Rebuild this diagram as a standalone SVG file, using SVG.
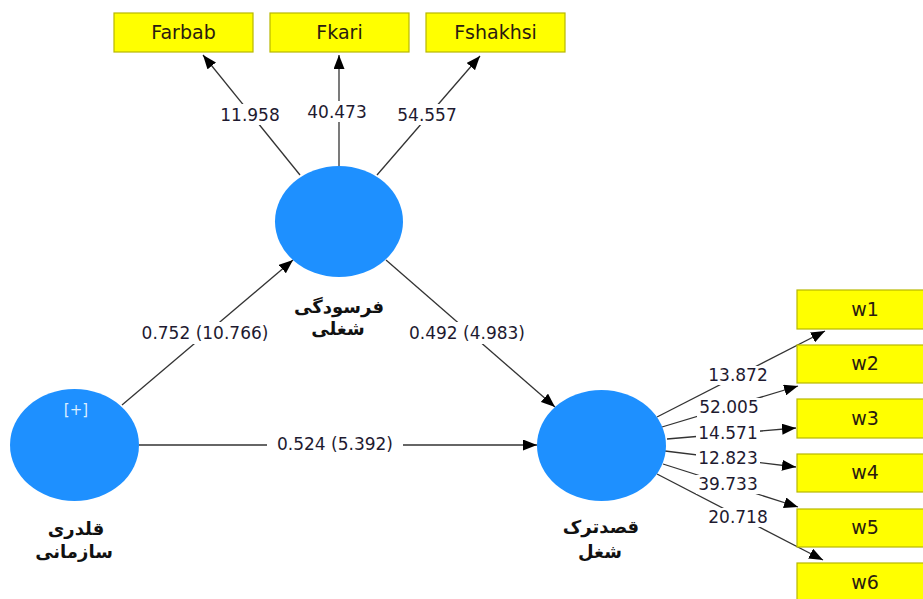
<svg xmlns="http://www.w3.org/2000/svg" width="923" height="599" viewBox="0 0 923 599">
<defs>
<style>
.ind{fill:#ffff00;stroke:#b8b800;stroke-width:1.2}
.ind-t{font-family:"DejaVu Sans",sans-serif;font-size:19px;fill:#2a1a10;text-anchor:middle}
.lv{fill:#1e90ff}
.lv-t{font-family:"DejaVu Sans",sans-serif;font-size:18px;font-weight:bold;fill:#111;text-anchor:middle}
.plus{font-family:"DejaVu Sans",sans-serif;font-size:15px;fill:#dbeeff;text-anchor:middle}
.ln{stroke:#333;stroke-width:1.3;fill:none;marker-end:url(#ah)}
.bg{fill:#fff}
.lb{font-family:"DejaVu Sans",sans-serif;font-size:17px;fill:#1e1a30;text-anchor:middle}
</style>
<marker id="ah" viewBox="0 0 14 11" refX="14" refY="5.5" markerWidth="14" markerHeight="11" orient="auto" markerUnits="userSpaceOnUse">
<path d="M0,0 L14,5.5 L0,11 z" fill="#000"/>
</marker>
</defs>
<rect width="923" height="599" fill="#fff"/>

<g id="connectors">
<line class="ln" x1="300" y1="175" x2="203" y2="55"/>
<line class="ln" x1="339" y1="166" x2="339" y2="55"/>
<line class="ln" x1="377" y1="175" x2="480" y2="56"/>
<line class="ln" x1="122" y1="405" x2="293" y2="260"/>
<line class="ln" x1="386" y1="260" x2="555" y2="407"/>
<line class="ln" x1="139" y1="445" x2="537" y2="445"/>
<line class="ln" x1="657" y1="417" x2="825" y2="331"/>
<line class="ln" x1="662" y1="427" x2="798" y2="386"/>
<line class="ln" x1="667" y1="439" x2="796" y2="428"/>
<line class="ln" x1="665" y1="451" x2="796" y2="467"/>
<line class="ln" x1="663" y1="464" x2="798" y2="507"/>
<line class="ln" x1="657" y1="474" x2="823" y2="560"/>

<rect class="bg" x="218" y="104" width="64" height="21"/>
<text class="lb" x="250" y="121">11.958</text>
<rect class="bg" x="305" y="101" width="64" height="21"/>
<text class="lb" x="337" y="118">40.473</text>
<rect class="bg" x="395" y="104" width="64" height="21"/>
<text class="lb" x="427" y="121">54.557</text>
<rect class="bg" x="136" y="322" width="138" height="22"/>
<text class="lb" x="205" y="339">0.752 (10.766)</text>
<rect class="bg" x="403" y="322" width="128" height="22"/>
<text class="lb" x="467" y="339">0.492 (4.983)</text>
<rect class="bg" x="267" y="433" width="136" height="22"/>
<text class="lb" x="335" y="450">0.524 (5.392)</text>

<rect class="bg" x="706" y="366" width="64" height="19"/>
<text class="lb" x="738" y="381">13.872</text>
<rect class="bg" x="697" y="398" width="64" height="19"/>
<text class="lb" x="729" y="413">52.005</text>
<rect class="bg" x="696" y="424" width="64" height="19"/>
<text class="lb" x="728" y="439">14.571</text>
<rect class="bg" x="696" y="449" width="64" height="19"/>
<text class="lb" x="728" y="464">12.823</text>
<rect class="bg" x="696" y="475" width="64" height="19"/>
<text class="lb" x="728" y="490">39.733</text>
<rect class="bg" x="706" y="508" width="64" height="19"/>
<text class="lb" x="738" y="523">20.718</text>
</g>

<g id="Farbab"><rect class="ind" x="114" y="13" width="139" height="39"/><text class="ind-t" x="183.5" y="39">Farbab</text></g>
<g id="Fkari"><rect class="ind" x="270" y="13" width="139" height="39"/><text class="ind-t" x="339.5" y="39">Fkari</text></g>
<g id="Fshakhsi"><rect class="ind" x="426" y="13" width="139" height="39"/><text class="ind-t" x="495.5" y="39">Fshakhsi</text></g>

<g id="w1"><rect class="ind" x="797" y="290" width="138" height="39"/><text class="ind-t" x="865" y="316">w1</text></g>
<g id="w2"><rect class="ind" x="797" y="345" width="138" height="38"/><text class="ind-t" x="865" y="370">w2</text></g>
<g id="w3"><rect class="ind" x="797" y="399" width="138" height="39"/><text class="ind-t" x="865" y="425">w3</text></g>
<g id="w4"><rect class="ind" x="797" y="454" width="138" height="38"/><text class="ind-t" x="865" y="479">w4</text></g>
<g id="w5"><rect class="ind" x="797" y="509" width="138" height="38"/><text class="ind-t" x="865" y="534">w5</text></g>
<g id="w6"><rect class="ind" x="797" y="563" width="138" height="39"/><text class="ind-t" x="865" y="589">w6</text></g>

<g id="fersudegi">
<ellipse class="lv" cx="339" cy="221.5" rx="64" ry="55.5"/>
<text class="lv-t" x="339" y="313">فرسودگی</text>
<text class="lv-t" x="338" y="335">شغلی</text>
</g>

<g id="ghaldari">
<ellipse class="lv" cx="74.5" cy="445" rx="64.5" ry="56"/>
<text class="plus" x="76" y="415">[+]</text>
<text class="lv-t" x="76" y="535">قلدری</text>
<text class="lv-t" x="74" y="558">سازمانی</text>
</g>

<g id="ghasd">
<ellipse class="lv" cx="601.5" cy="445.5" rx="64.5" ry="55.5"/>
<text class="lv-t" x="601" y="533">قصدترک</text>
<text class="lv-t" x="600" y="558">شغل</text>
</g>
</svg>
